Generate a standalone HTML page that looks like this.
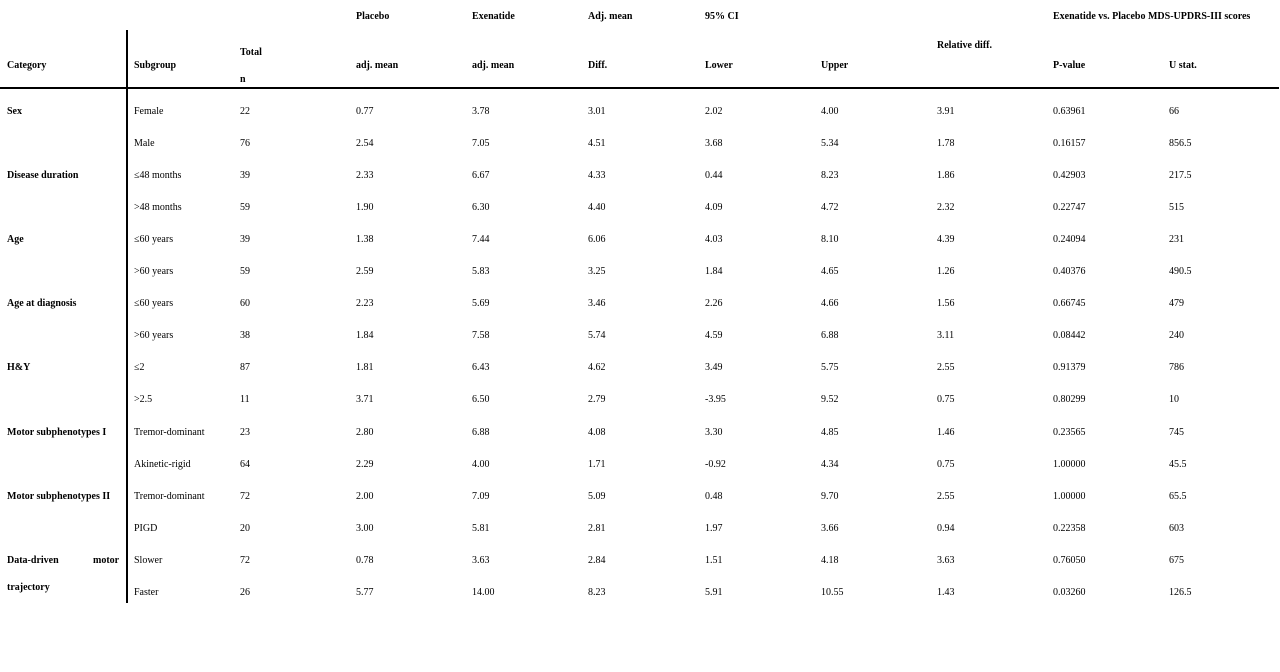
<!DOCTYPE html>
<html><head><meta charset="utf-8"><style>
body{margin:0;width:1280px;height:672px;background:#fff;position:relative;overflow:hidden;font-family:"Liberation Serif",serif;font-size:10px;color:#000}
.t{position:absolute;white-space:nowrap;line-height:12px;margin-top:2px}
.b{font-weight:bold}
.r{position:absolute;left:0;width:1280px;height:32px;margin-top:2px}
.r span{position:absolute;top:0;line-height:12px;white-space:nowrap}
.r span:nth-child(1){left:7px;font-weight:bold}
.r span:nth-child(2){left:134px}
.r span:nth-child(3){left:240px}
.r span:nth-child(4){left:356px}
.r span:nth-child(5){left:472px}
.r span:nth-child(6){left:588px}
.r span:nth-child(7){left:705px}
.r span:nth-child(8){left:821px}
.r span:nth-child(9){left:937px}
.r span:nth-child(10){left:1053px}
.r span:nth-child(11){left:1169px}
</style></head><body>
<div class="t b" style="left:356px;top:9px">Placebo</div>
<div class="t b" style="left:472px;top:9px">Exenatide</div>
<div class="t b" style="left:588px;top:9px">Adj. mean</div>
<div class="t b" style="left:705px;top:9px">95% CI</div>
<div class="t b" style="left:1053px;top:9px">Exenatide vs. Placebo MDS-UPDRS-III scores</div>
<div class="t b" style="left:240px;top:45px">Total</div>
<div class="t b" style="left:240px;top:72px">n</div>
<div class="t b" style="left:937px;top:38px">Relative diff.</div>
<div class="t b" style="left:7px;top:58px">Category</div>
<div class="t b" style="left:134px;top:58px">Subgroup</div>
<div class="t b" style="left:356px;top:58px">adj. mean</div>
<div class="t b" style="left:472px;top:58px">adj. mean</div>
<div class="t b" style="left:588px;top:58px">Diff.</div>
<div class="t b" style="left:705px;top:58px">Lower</div>
<div class="t b" style="left:821px;top:58px">Upper</div>
<div class="t b" style="left:1053px;top:58px">P-value</div>
<div class="t b" style="left:1169px;top:58px">U stat.</div>
<div style="position:absolute;left:0;top:87px;width:1279px;height:2px;background:#000"></div>
<div style="position:absolute;left:126px;top:30px;width:2px;height:573px;background:#000"></div>

<div class="r" style="top:104px"><span>Sex</span><span>Female</span><span>22</span><span>0.77</span><span>3.78</span><span>3.01</span><span>2.02</span><span>4.00</span><span>3.91</span><span>0.63961</span><span>66</span></div>
<div class="r" style="top:136px"><span></span><span>Male</span><span>76</span><span>2.54</span><span>7.05</span><span>4.51</span><span>3.68</span><span>5.34</span><span>1.78</span><span>0.16157</span><span>856.5</span></div>
<div class="r" style="top:168px"><span>Disease duration</span><span>≤48 months</span><span>39</span><span>2.33</span><span>6.67</span><span>4.33</span><span>0.44</span><span>8.23</span><span>1.86</span><span>0.42903</span><span>217.5</span></div>
<div class="r" style="top:200px"><span></span><span>&gt;48 months</span><span>59</span><span>1.90</span><span>6.30</span><span>4.40</span><span>4.09</span><span>4.72</span><span>2.32</span><span>0.22747</span><span>515</span></div>
<div class="r" style="top:232px"><span>Age</span><span>≤60 years</span><span>39</span><span>1.38</span><span>7.44</span><span>6.06</span><span>4.03</span><span>8.10</span><span>4.39</span><span>0.24094</span><span>231</span></div>
<div class="r" style="top:264px"><span></span><span>&gt;60 years</span><span>59</span><span>2.59</span><span>5.83</span><span>3.25</span><span>1.84</span><span>4.65</span><span>1.26</span><span>0.40376</span><span>490.5</span></div>
<div class="r" style="top:296px"><span>Age at diagnosis</span><span>≤60 years</span><span>60</span><span>2.23</span><span>5.69</span><span>3.46</span><span>2.26</span><span>4.66</span><span>1.56</span><span>0.66745</span><span>479</span></div>
<div class="r" style="top:328px"><span></span><span>&gt;60 years</span><span>38</span><span>1.84</span><span>7.58</span><span>5.74</span><span>4.59</span><span>6.88</span><span>3.11</span><span>0.08442</span><span>240</span></div>
<div class="r" style="top:360px"><span>H&amp;Y</span><span>≤2</span><span>87</span><span>1.81</span><span>6.43</span><span>4.62</span><span>3.49</span><span>5.75</span><span>2.55</span><span>0.91379</span><span>786</span></div>
<div class="r" style="top:392px"><span></span><span>&gt;2.5</span><span>11</span><span>3.71</span><span>6.50</span><span>2.79</span><span>-3.95</span><span>9.52</span><span>0.75</span><span>0.80299</span><span>10</span></div>
<div class="r" style="top:425px"><span>Motor subphenotypes I</span><span>Tremor-dominant</span><span>23</span><span>2.80</span><span>6.88</span><span>4.08</span><span>3.30</span><span>4.85</span><span>1.46</span><span>0.23565</span><span>745</span></div>
<div class="r" style="top:457px"><span></span><span>Akinetic-rigid</span><span>64</span><span>2.29</span><span>4.00</span><span>1.71</span><span>-0.92</span><span>4.34</span><span>0.75</span><span>1.00000</span><span>45.5</span></div>
<div class="r" style="top:489px"><span>Motor subphenotypes II</span><span>Tremor-dominant</span><span>72</span><span>2.00</span><span>7.09</span><span>5.09</span><span>0.48</span><span>9.70</span><span>2.55</span><span>1.00000</span><span>65.5</span></div>
<div class="r" style="top:521px"><span></span><span>PIGD</span><span>20</span><span>3.00</span><span>5.81</span><span>2.81</span><span>1.97</span><span>3.66</span><span>0.94</span><span>0.22358</span><span>603</span></div>
<div class="r" style="top:553px"><span>Data-driven</span><span>Slower</span><span>72</span><span>0.78</span><span>3.63</span><span>2.84</span><span>1.51</span><span>4.18</span><span>3.63</span><span>0.76050</span><span>675</span></div>
<div class="t b" style="left:93px;top:553px">motor</div>
<div class="t b" style="left:7px;top:580px">trajectory</div>
<div class="r" style="top:585px"><span></span><span>Faster</span><span>26</span><span>5.77</span><span>14.00</span><span>8.23</span><span>5.91</span><span>10.55</span><span>1.43</span><span>0.03260</span><span>126.5</span></div>
</body></html>
